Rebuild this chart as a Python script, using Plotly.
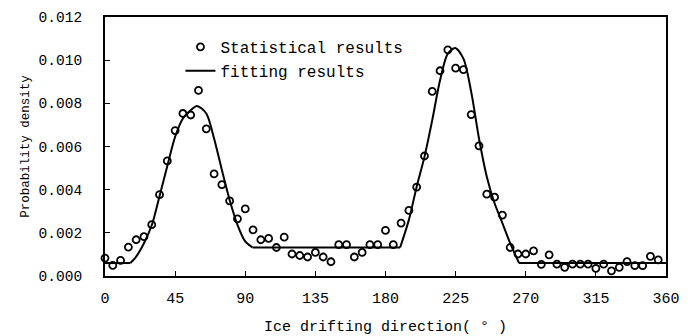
import plotly.graph_objects as go

# Statistical results (every 5 degrees)
stat_x = list(range(0, 360, 5))
stat_y = [0.00083, 0.00049, 0.00072, 0.00134, 0.00168, 0.00182, 0.00238, 0.00377,
          0.00533, 0.00674, 0.00753, 0.00746, 0.00860, 0.00682, 0.00473, 0.00423,
          0.00348, 0.00265, 0.00311, 0.00214, 0.00168, 0.00174, 0.00132, 0.00180,
          0.00102, 0.00095, 0.00088, 0.00109, 0.00088, 0.00066, 0.00145, 0.00145,
          0.00088, 0.00109, 0.00145, 0.00145, 0.00211, 0.00145, 0.00245, 0.00304,
          0.00412, 0.00556, 0.00855, 0.00951, 0.01048, 0.00963, 0.00956, 0.00748,
          0.00603, 0.00379, 0.00365, 0.00282, 0.00132, 0.00102, 0.00102, 0.00116,
          0.00054, 0.00098, 0.00055, 0.00040, 0.00055, 0.00055, 0.00055, 0.00035,
          0.00055, 0.00024, 0.00040, 0.00067, 0.00048, 0.00048, 0.00091, 0.00075]

# Fitting results
fit_flat1_x = [0, 16.3]
fit_flat1_y = [0.0006, 0.0006]
fit_peak1_x = [16.3, 20, 25, 30, 35, 40, 45, 50, 55, 59, 65, 70, 75, 80, 85, 90, 94.7]
fit_peak1_y = [0.0006, 0.0009, 0.00152, 0.00235, 0.0037, 0.0051, 0.00645, 0.0073,
               0.00768, 0.00788, 0.00753, 0.00637, 0.00491, 0.00352, 0.00237, 0.0016, 0.00132]
fit_flat2_x = [94.7, 189.4]
fit_flat2_y = [0.00132, 0.00132]
fit_peak2_x = [189.4, 195, 200, 205, 210, 215, 220, 224.7, 230, 235, 240, 245, 250, 255, 260, 265.7]
fit_peak2_y = [0.00132, 0.0026, 0.00414, 0.00552, 0.00722, 0.00907, 0.0103, 0.01056,
               0.01007, 0.00853, 0.00637, 0.0046, 0.00337, 0.00245, 0.00152, 0.0006]
fit_flat3_x = [265.7, 360]
fit_flat3_y = [0.0006, 0.0006]

x_ticks = [0, 45, 90, 135, 180, 225, 270, 315, 360]
y_ticks = [0.000, 0.002, 0.004, 0.006, 0.008, 0.010, 0.012]

FONT = "Liberation Mono"

fig = go.Figure()
fig.add_trace(go.Scatter(
    x=stat_x, y=stat_y, mode="markers", name="Statistical results",
    marker=dict(symbol="circle-open", size=7, color="black", line=dict(width=1.8, color="black")),
    cliponaxis=False,
))
segments = [
    (fit_flat1_x, fit_flat1_y, "linear"),
    (fit_peak1_x, fit_peak1_y, "spline"),
    (fit_flat2_x, fit_flat2_y, "linear"),
    (fit_peak2_x, fit_peak2_y, "spline"),
    (fit_flat3_x, fit_flat3_y, "linear"),
]
for i, (sx, sy, shape) in enumerate(segments):
    fig.add_trace(go.Scatter(
        x=sx, y=sy, mode="lines", name="fitting results",
        line=dict(color="black", width=2, shape=shape, smoothing=0.8 if shape == "spline" else None),
        legendgroup="fit", showlegend=(i == 0),
    ))

fig.update_layout(
    width=693, height=336,
    margin=dict(l=104.5, r=27, t=16.5, b=59.7),
    paper_bgcolor="white", plot_bgcolor="white",
    font=dict(family=FONT, color="black"),
    showlegend=True,
    legend=dict(x=0.1345, y=0.95, xanchor="left", yanchor="top",
                bgcolor="rgba(0,0,0,0)", font=dict(size=16, family=FONT), tracegroupgap=0),
)
fig.update_xaxes(
    range=[0, 360], tickvals=x_ticks, ticktext=[str(v) for v in x_ticks],
    showgrid=False, zeroline=False, showline=True, linecolor="black", linewidth=2, mirror=True,
    ticks="inside", ticklen=5, tickwidth=1, tickcolor="black", automargin=False,
    tickfont=dict(size=15, family=FONT), ticklabelstandoff=7,
    title=dict(text="Ice drifting direction( ° )", font=dict(size=15, family=FONT), standoff=15),
)
fig.update_yaxes(
    range=[0, 0.012], tickvals=y_ticks, ticktext=["%.3f" % v for v in y_ticks],
    showgrid=False, zeroline=False, showline=True, linecolor="black", linewidth=2, mirror=True,
    ticks="inside", ticklen=5, tickwidth=1, tickcolor="black", automargin=False,
    tickfont=dict(size=14.5, family=FONT), ticklabelstandoff=18,
    title=dict(text="Probability density", font=dict(size=12.5, family=FONT), standoff=6),
)

fig.write_html("out.html", config={"displayModeBar": False},
               post_script="document.body.style.margin='0px';document.body.style.padding='0px';")
